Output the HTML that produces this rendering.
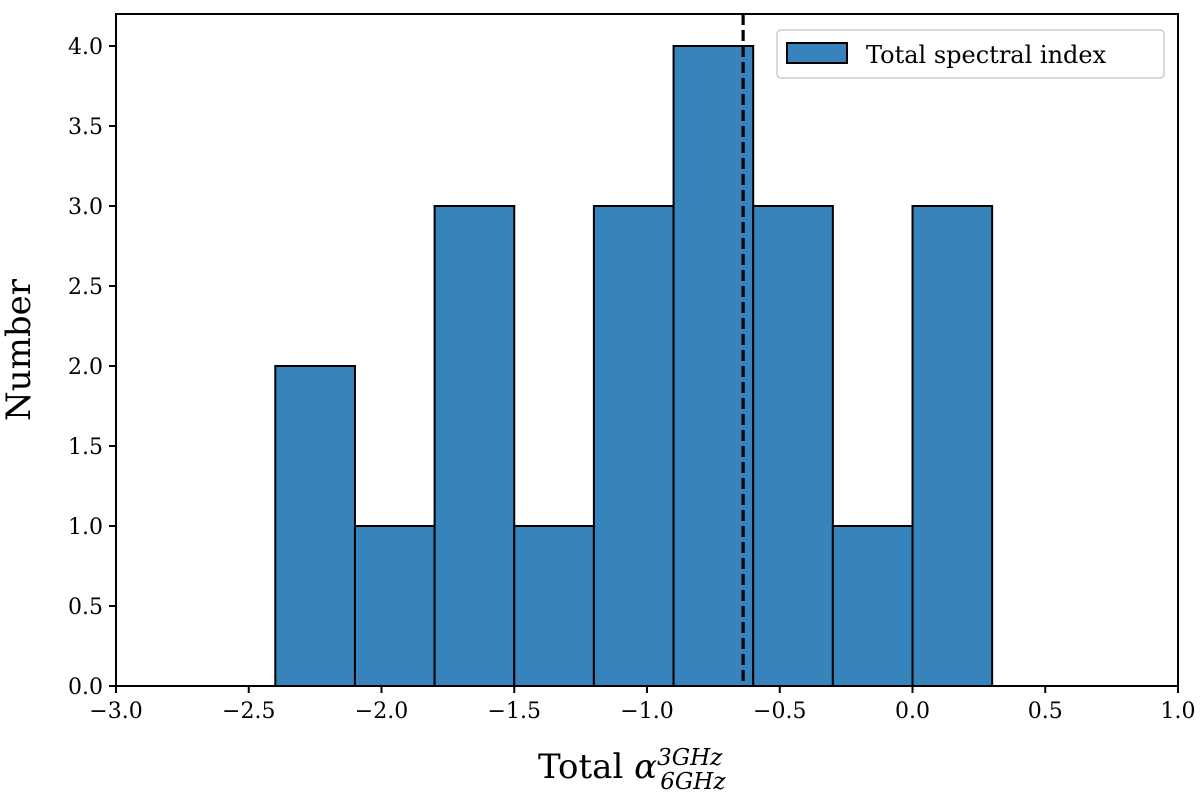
<!DOCTYPE html>
<html><head><meta charset="utf-8"><style>
body{margin:0;background:#fff}
svg text{font-family:"DejaVu Serif","Liberation Serif",serif;fill:#000}
</style></head><body>
<svg id="chart" width="1200" height="792">
<g id="bars"></g>
<line id="median" stroke="#000" stroke-width="3.2" stroke-dasharray="11,5"/>
<g id="xticks"></g><g id="yticks"></g>
<rect x="116" y="14" width="1062" height="672" fill="none" stroke="#000" stroke-width="2"/>
<text x="30" y="350" font-size="34" text-anchor="middle" transform="rotate(-90 30 350)">Number</text>
<text x="538" y="778" font-size="34">Total <tspan font-style="italic">α</tspan><tspan font-size="23" font-style="italic" dy="-13">3GHz</tspan><tspan font-size="23" font-style="italic" dy="24" dx="-62">6GHz</tspan></text>
<g>
<rect x="777" y="30" width="387" height="48" rx="4" fill="#fff" stroke="#ccc" stroke-width="1.5"/>
<rect x="787" y="43" width="60" height="20" fill="#3783bb" stroke="#000" stroke-width="2"/>
<text x="866" y="63" font-size="24">Total spectral index</text>
</g>
</svg>
<script>
const binEdges=[-2.4,-2.1,-1.8,-1.5,-1.2,-0.9,-0.6,-0.3,0.0,0.3];
const counts=[2,1,3,1,3,4,3,1,3];
const medianValue=-0.638;
const xTickLabels=["−3.0","−2.5","−2.0","−1.5","−1.0","−0.5","0.0","0.5","1.0"];
const xTickValues=[-3,-2.5,-2,-1.5,-1,-0.5,0,0.5,1];
const yTickValues=[0,0.5,1,1.5,2,2.5,3,3.5,4];
const yTickLabels=["0.0","0.5","1.0","1.5","2.0","2.5","3.0","3.5","4.0"];
const X=v=>116+(v+3)*1062/4, Y=v=>686-v*160;
const ns="http://www.w3.org/2000/svg";
function mk(t,a,p){const e=document.createElementNS(ns,t);for(const k in a)e.setAttribute(k,a[k]);p.appendChild(e);return e;}
const bars=document.getElementById('bars');
counts.forEach((c,i)=>{const r=mk('rect',{x:X(binEdges[i]),y:Y(c),width:X(binEdges[i+1])-X(binEdges[i]),height:Y(0)-Y(c),fill:'#3783bb',stroke:'#000','stroke-width':2},bars);

});
const m=document.getElementById('median');
m.setAttribute('x1',X(medianValue));m.setAttribute('x2',X(medianValue));m.setAttribute('y1',14);m.setAttribute('y2',686);
const xt=document.getElementById('xticks');
xTickValues.forEach((v,i)=>{mk('line',{x1:X(v),x2:X(v),y1:686,y2:693,stroke:'#000','stroke-width':2},xt);
const t=mk('text',{x:X(v),y:718,'font-size':22,'text-anchor':'middle'},xt);t.textContent=xTickLabels[i];

});
const yt=document.getElementById('yticks');
yTickValues.forEach((v,i)=>{mk('line',{x1:109,x2:116,y1:Y(v),y2:Y(v),stroke:'#000','stroke-width':2},yt);
const t=mk('text',{x:103,y:Y(v)+8,'font-size':22,'text-anchor':'end'},yt);t.textContent=yTickLabels[i];

});
</script>
</body></html>
